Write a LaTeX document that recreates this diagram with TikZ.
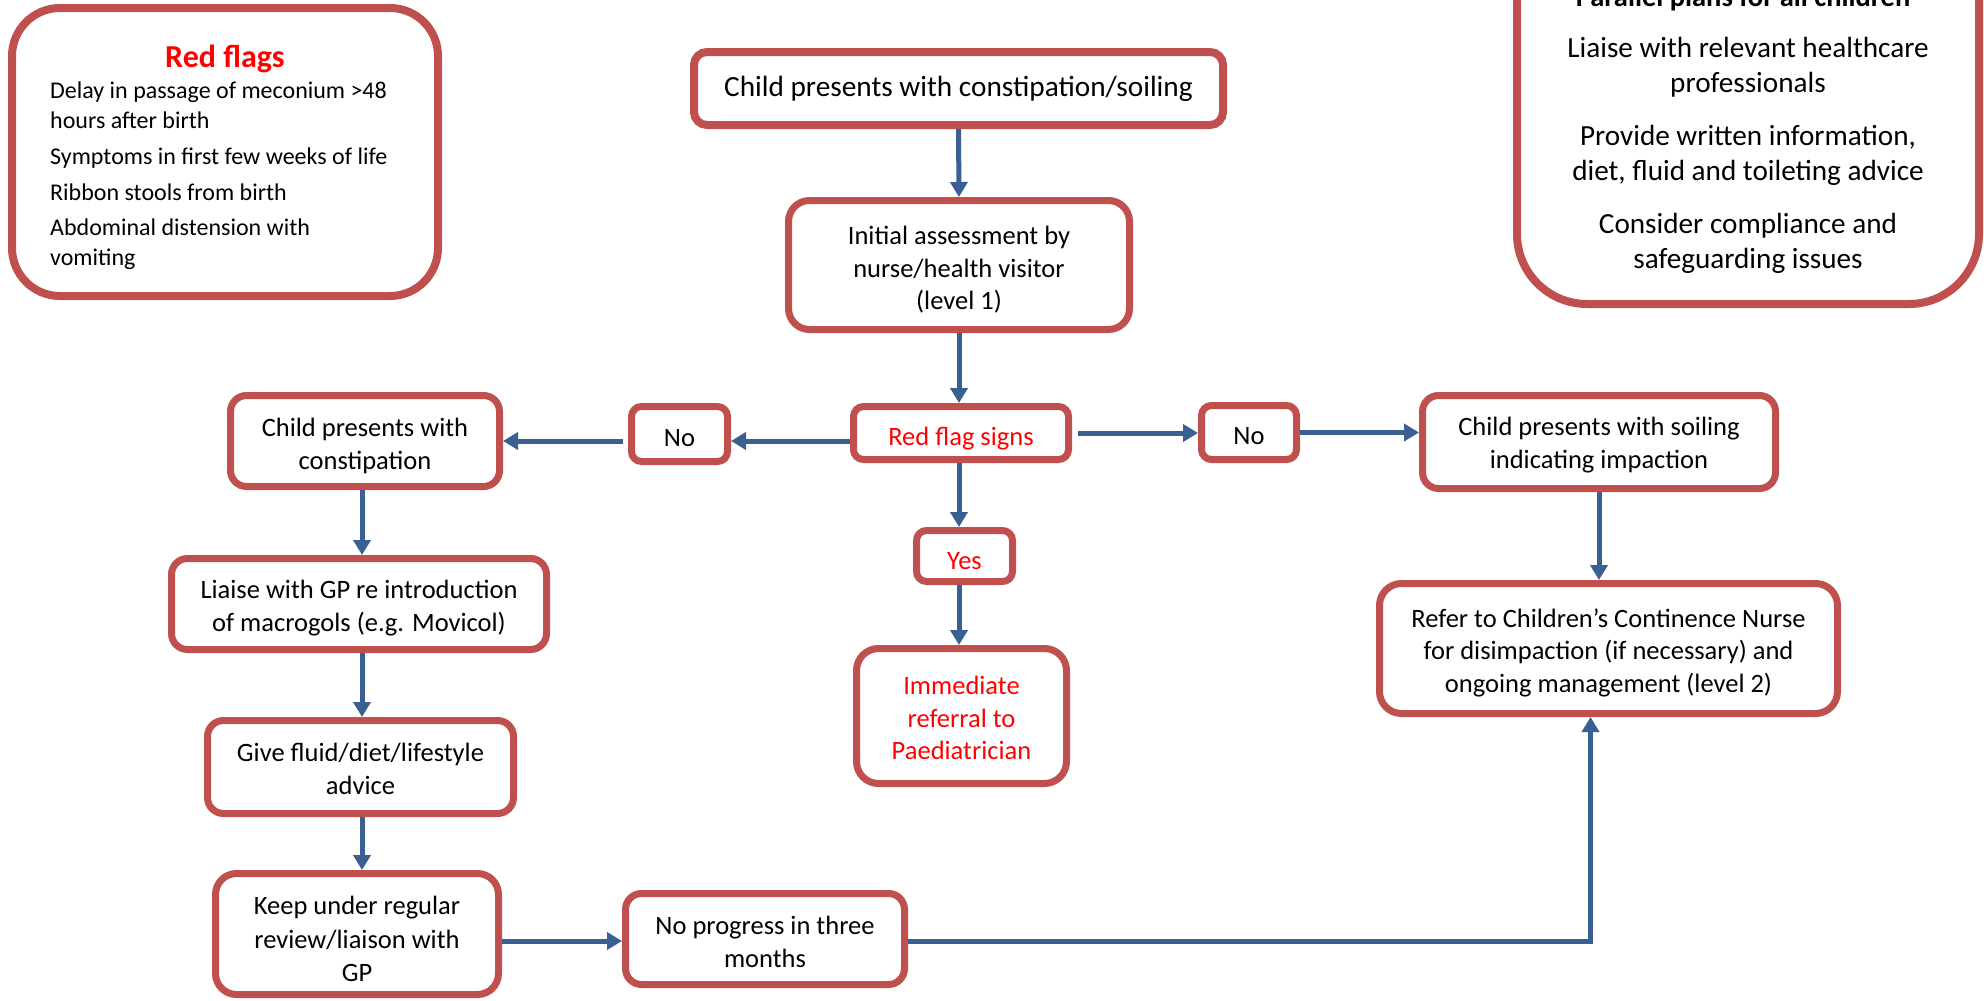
\documentclass[tikz,border=0pt]{standalone}
\usepackage{fontspec}
\setmainfont{Carlito}
\usetikzlibrary{arrows.meta}

\definecolor{boxred}{HTML}{C0504D}
\definecolor{flowblue}{HTML}{3A5F93}
\definecolor{flagred}{HTML}{FF0000}

\begin{document}
\begin{tikzpicture}[x=1pt,y=-1pt,
  box/.style={draw=boxred, line width=7pt, rounded corners=#1, fill=white, inner sep=0pt},
  bigbox/.style={box=#1, line width=8pt},
  boxtext/.style={inner sep=0pt, align=center, font=\fontsize{26.5}{32.5}\selectfont},
  arr/.style={draw=flowblue, line width=5pt, line join=miter,
    -{Triangle[width=17pt,length=15pt]}},
  listline/.style={anchor=base west, inner sep=0pt, font=\fontsize{24}{29}\selectfont},
  planline/.style={anchor=base, inner sep=0pt, font=\fontsize{29.2}{35}\selectfont},
  warn/.style={text=flagred}
]
\useasboundingbox (0,0) rectangle (1984,1001);
\clip (0,0) rectangle (1984,1001);

% side panel: red flags
\node[bigbox=48, minimum width=426pt, minimum height=288pt] (redflags) at (225,152) {};
\node[anchor=base, inner sep=0pt, text=flagred, font=\fontsize{32}{38}\selectfont\bfseries] (rftitle) at (225,67) {Red flags};
\node[listline] (rf1) at (50,98) {Delay in passage of meconium >48};
\node[listline] (rf2) at (50,128) {hours after birth};
\node[listline] (rf3) at (50,164) {Symptoms in first few weeks of life};
\node[listline] (rf4) at (50,200) {Ribbon stools from birth};
\node[listline] (rf5) at (50,235) {Abdominal distension with};
\node[listline] (rf6) at (50,265) {vomiting};

% side panel: parallel plans
\node[bigbox=70, minimum width=462pt, minimum height=420pt] (plans) at (1748,94) {};
\node[anchor=base, inner sep=0pt, font=\fontsize{28.5}{34}\selectfont\bfseries] (pltitle) at (1743,6) {Parallel plans for all children};
\node[planline] (pl1) at (1748,57) {Liaise with relevant healthcare};
\node[planline] (pl2) at (1748,92) {professionals};
\node[planline] (pl3) at (1748,145) {Provide written information,};
\node[planline] (pl4) at (1748,180) {diet, fluid and toileting advice};
\node[planline] (pl5) at (1748,233) {Consider compliance and};
\node[planline] (pl6) at (1748,268) {safeguarding issues};

% central column
\node[box=13, line width=8pt, minimum width=529pt, minimum height=73pt] (top) at (958.5,88.5) {};
\node[boxtext, font=\fontsize{29.3}{36}\selectfont] (top-t) at (top.center) {Child presents with constipation/soiling};

\node[box=21, minimum width=341pt, minimum height=129pt] (init) at (959,265) {};
\node[boxtext] (init-t) at ([yshift=-5pt]init.center) {Initial assessment by\\nurse/health visitor\\(level 1)};

\node[box=10, minimum width=215pt, minimum height=53pt] (redflag) at (961,433) {};
\node[boxtext, warn] (redflag-t) at ([yshift=-6pt]redflag.center) {Red flag signs};

\node[box=10, minimum width=96pt, minimum height=55pt] (noL) at (679.5,434) {};
\node[boxtext] (noL-t) at ([yshift=-4pt]noL.center) {No};

\node[box=10, minimum width=95pt, minimum height=54pt] (noR) at (1249,432.5) {};
\node[boxtext] (noR-t) at ([yshift=-4pt]noR.center) {No};

\node[box=10, minimum width=96pt, minimum height=51pt] (yes) at (964.5,556) {};
\node[boxtext, warn] (yes-t) at ([yshift=-5pt]yes.center) {Yes};

\node[box=22, minimum width=210pt, minimum height=135pt] (immed) at (961.5,716) {};
\node[boxtext, warn] (immed-t) at ([yshift=-2pt]immed.center) {Immediate\\referral to\\Paediatrician};

% right column
\node[box=16, minimum width=353pt, minimum height=93pt] (soil) at (1599,442) {};
\node[boxtext] (soil-t) at ([yshift=-3pt]soil.center) {Child presents with soiling\\indicating impaction};

\node[box=22, minimum width=458pt, minimum height=130pt] (refer) at (1608.5,648.5) {};
\node[boxtext] (refer-t) at ([yshift=-4pt]refer.center) {Refer to Children’s Continence Nurse\\for disimpaction (if necessary) and\\ongoing management (level 2)};

% left column
\node[box=16, minimum width=269pt, minimum height=91pt] (constip) at (365,441) {};
\node[boxtext] (constip-t) at ([yshift=-5pt]constip.center) {Child presents with\\constipation};

\node[box=16, minimum width=375pt, minimum height=91pt] (liaise) at (359,604) {};
\node[boxtext] (liaise-t) at ([yshift=-4pt]liaise.center) {Liaise with GP re introduction\\of macrogols (e.g. Movicol)};

\node[box=16, minimum width=306pt, minimum height=93pt] (give) at (360.5,767) {};
\node[boxtext] (give-t) at ([yshift=-2pt]give.center) {Give fluid/diet/lifestyle\\advice};

\node[box=21, minimum width=283pt, minimum height=121pt] (keep) at (357,934) {};
\node[boxtext, font=\fontsize{26.5}{33.5}\selectfont] (keep-t) at ([yshift=-5pt]keep.center) {Keep under regular\\review/liaison with\\GP};

\node[box=16, minimum width=279pt, minimum height=91pt] (noprog) at (765,939) {};
\node[boxtext] (noprog-t) at ([yshift=-3pt]noprog.center) {No progress in three\\months};

% connectors
\draw[arr] (top.south) -- (init.north);
\draw[arr] (init.south) -- (init.south |- redflag.north);
\draw[arr] ([yshift=-8pt]redflag.west) -- ([yshift=-8pt]redflag.west -| noL.east);
\draw[arr, shorten <=5pt] ([yshift=-7pt]noL.west) -- ([yshift=-7pt]noL.west -| constip.east);
\draw[arr, shorten <=6pt] (redflag.east) -- (redflag.east -| noR.west);
\draw[arr] (noR.east) -- (noR.east -| soil.west);
\draw[arr] (init.south |- redflag.south) -- (init.south |- yes.north);
\draw[arr] (init.south |- yes.south) -- (init.south |- immed.north);
\draw[arr] (soil.south) -- (soil.south |- refer.north);
\draw[arr] ([xshift=-3pt]constip.south) -- ([xshift=-3pt]constip.south |- liaise.north);
\draw[arr] ([xshift=-3pt]constip.south |- liaise.south) -- ([xshift=-3pt]constip.south |- give.north);
\draw[arr] ([xshift=-3pt]constip.south |- give.south) -- ([xshift=-3pt]constip.south |- keep.north);
\draw[arr] ([yshift=-2pt]noprog.west -| keep.east) -- ([yshift=-2pt]noprog.west);
\draw[arr] ([yshift=-2pt]noprog.east) -| ([xshift=-18pt]refer.south);
\end{tikzpicture}
\end{document}
